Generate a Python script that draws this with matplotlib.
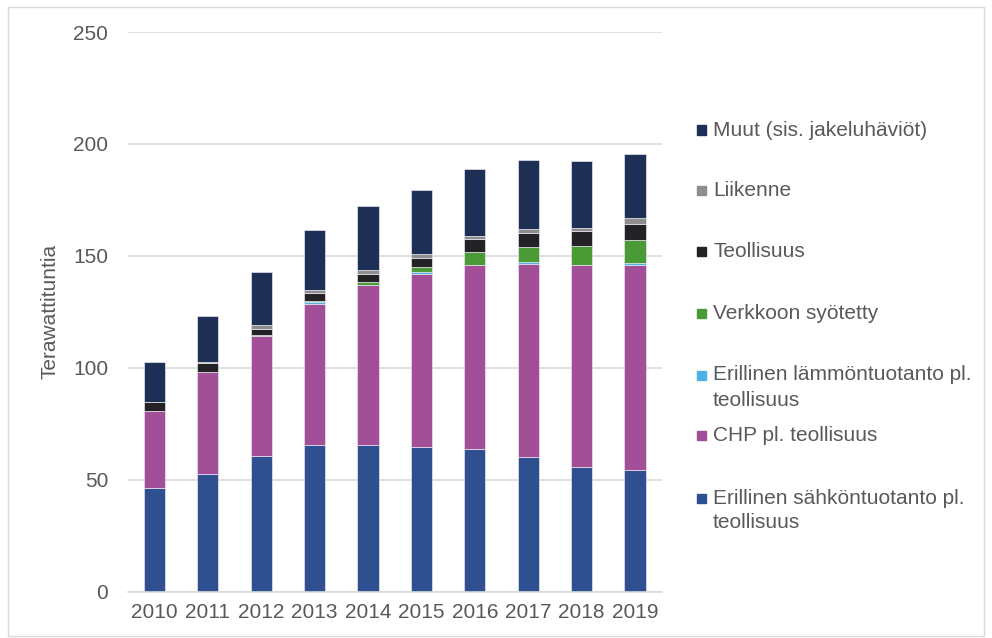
import numpy as np
import matplotlib
matplotlib.use('Agg')
import matplotlib.pyplot as plt
from matplotlib.patches import Rectangle

plt.rcParams['font.family'] = ['Liberation Sans', 'DejaVu Sans']

# Datos (TWh)
vuodet = ['2010', '2011', '2012', '2013', '2014', '2015', '2016', '2017', '2018', '2019']
erillinen_sahko = [46.1, 52.4, 60.5, 65.3, 65.3, 64.5, 63.8, 59.9, 55.7, 54.1]
chp = [34.4, 45.9, 53.5, 63.0, 71.8, 77.5, 82.1, 86.6, 90.2, 91.8]
erillinen_lampo = [0.0, 0.0, 0.0, 1.0, 0.0, 0.9, 0.0, 0.9, 0.0, 0.9]
verkkoon = [0.0, 0.0, 0.5, 0.7, 1.0, 2.1, 5.7, 6.6, 8.7, 10.3]
teollisuus = [4.0, 3.7, 3.0, 3.4, 3.9, 4.1, 5.7, 6.3, 6.4, 7.2]
liikenne = [0.2, 0.7, 1.4, 1.5, 1.5, 1.8, 1.5, 1.8, 1.6, 2.4]
muut = [17.9, 20.3, 23.9, 26.8, 28.7, 28.5, 30.1, 30.8, 29.6, 28.6]

sarjat = [
    ('Erillinen sähköntuotanto pl.\nteollisuus', erillinen_sahko, '#2E5090'),
    ('CHP pl. teollisuus', chp, '#A34F97'),
    ('Erillinen lämmöntuotanto pl.\nteollisuus', erillinen_lampo, '#4DB3E6'),
    ('Verkkoon syötetty', verkkoon, '#4A9B35'),
    ('Teollisuus', teollisuus, '#232326'),
    ('Liikenne', liikenne, '#8E8E8E'),
    ('Muut (sis. jakeluhäviöt)', muut, '#1D2F55'),
]

W, H = 992, 638
FS = 15
fig = plt.figure(figsize=(W / 100, H / 100), dpi=100)
ax = fig.add_axes([127.7 / W, 1 - 591.5 / H, 534 / W, (591.5 - 32) / H])

x = np.arange(len(vuodet))
pohja = np.zeros(len(vuodet))
for nimi, arvot, vari in sarjat:
    ax.bar(x, arvot, width=0.4, bottom=pohja, color=vari,
           edgecolor='#e8e4f0', linewidth=0.5)
    pohja += np.array(arvot)

ax.set_xlim(-0.5, len(vuodet) - 0.5)
ax.set_ylim(0, 250)
ax.set_yticks([0, 50, 100, 150, 200, 250])
ax.set_xticks(x)
ax.set_xticklabels(vuodet)
ax.grid(axis='y', color='#d9d9d9', linewidth=1.2)
ax.set_axisbelow(True)
for s in ['top', 'right', 'left']:
    ax.spines[s].set_visible(False)
ax.spines['bottom'].set_color('#d9d9d9')
ax.spines['bottom'].set_linewidth(1.2)
ax.tick_params(length=0, labelsize=FS, colors='#595959')
ax.tick_params(axis='y', pad=14)
ax.tick_params(axis='x', pad=8)
ax.set_ylabel('Terawattituntia', fontsize=FS, color='#595959', labelpad=10)

# Selite käsin, oikealle puolelle
selite_y = [130, 190.5, 251.5, 313, 375, 435.5, 498]
for (nimi, arvot, vari), yy in zip(sarjat[::-1], selite_y):
    fig.patches.append(Rectangle((697 / W, 1 - (yy + 4.5) / H), 9 / W, 9 / H,
                                 transform=fig.transFigure, color=vari))
    for i, rivi in enumerate(nimi.split('\n')):
        fig.text(713 / W, 1 - (yy + 25 * i) / H, rivi, fontsize=FS,
                 color='#595959', va='center', ha='left')

# kehys
fig.patches.append(Rectangle((8 / W, 1 - 636 / H), 976 / W, 629 / H,
                             transform=fig.transFigure, fill=False,
                             edgecolor='#d9d9d9', linewidth=1))

fig.savefig('out.png', dpi=100)
